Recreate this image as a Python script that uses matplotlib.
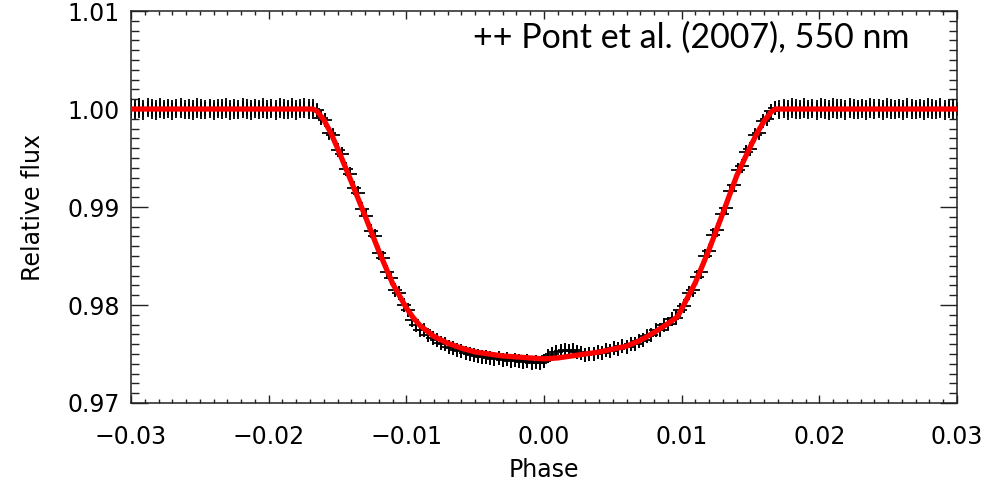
import numpy as np
import matplotlib
matplotlib.use("Agg")
import matplotlib.pyplot as plt
from matplotlib.ticker import MultipleLocator

# --- dados -----------------------------------------------------------------
# fase das medidas: amostragem regular de 0.0003 entre -0.03 e 0.03
phase = np.round(np.arange(-0.0300, 0.03001, 0.0003), 4)

flux_pre = [
    1.00012, 0.99995, 1.00008, 0.99990, 1.00015, 1.00003, 0.99992, 1.00010, 0.99997, 1.00006,
    0.99988, 1.00004, 1.00011, 0.99994, 1.00002, 0.99991, 1.00009, 1.00000, 0.99996, 1.00007,
    0.99993, 1.00005, 0.99998, 1.00012, 0.99989, 1.00003, 0.99995, 1.00008, 1.00001, 0.99992,
    1.00006, 0.99997, 1.00010, 0.99994, 1.00004, 0.99990, 1.00013, 1.00002, 0.99996, 1.00009,
    0.99993, 1.00005, 1.00011, 0.99998, 1.00003,
]
flux_ingress = [
    0.99985, 0.99905, 0.99890, 0.99760, 0.99730, 0.99580, 0.99540, 0.99390, 0.99340, 0.99190,
    0.99140, 0.98980, 0.98910, 0.98760, 0.98700, 0.98530, 0.98480, 0.98340, 0.98280, 0.98150,
    0.98120, 0.98000, 0.97950, 0.97850, 0.97800, 0.97750,
]
flux_bottom = [
    0.97740, 0.97690, 0.97660, 0.97640, 0.97610, 0.97600, 0.97570, 0.97560, 0.97540, 0.97530,
    0.97510, 0.97500, 0.97490, 0.97480, 0.97470, 0.97470, 0.97460, 0.97450, 0.97460, 0.97440,
    0.97450, 0.97430, 0.97440, 0.97430, 0.97420, 0.97430, 0.97410, 0.97420, 0.97410, 0.97430,
    0.97480, 0.97500, 0.97520, 0.97530, 0.97540, 0.97530, 0.97540, 0.97520, 0.97510, 0.97490,
    0.97500, 0.97500, 0.97520, 0.97510, 0.97540, 0.97530, 0.97560, 0.97550, 0.97580, 0.97570,
    0.97600, 0.97600, 0.97630, 0.97640, 0.97680, 0.97690, 0.97740, 0.97750, 0.97800, 0.97810,
    0.97860, 0.97870,
]
flux_egress = [
    0.97950, 0.97990, 0.98120, 0.98150, 0.98290, 0.98340, 0.98500, 0.98550, 0.98710, 0.98770,
    0.98930, 0.98990, 0.99160, 0.99220, 0.99380, 0.99420, 0.99560, 0.99590, 0.99730, 0.99760,
    0.99880, 0.99900, 0.99980, 1.00010,
]
flux_post = [
    0.99995, 1.00007, 0.99991, 1.00012, 1.00002, 0.99994, 1.00009, 0.99997, 1.00004, 0.99989,
    1.00011, 1.00001, 0.99993, 1.00008, 0.99998, 1.00005, 0.99990, 1.00013, 1.00003, 0.99996,
    1.00006, 0.99992, 1.00010, 0.99999, 1.00004, 0.99988, 1.00009, 1.00002, 0.99995, 1.00007,
    0.99991, 1.00012, 1.00000, 0.99997, 1.00005, 0.99993, 1.00010, 1.00003, 0.99996, 1.00008,
    0.99990, 1.00006, 1.00001, 0.99998,
]
err_out = 0.0010   # barras fora do trânsito
err_in = 0.0007    # barras dentro do trânsito

# modelo (linha vermelha)
model_phase = [-0.0300, -0.0168, -0.0165, -0.0160, -0.0155, -0.0150, -0.0140, -0.0130,
               -0.0120, -0.0110, -0.0100, -0.0095, -0.0090, -0.0080, -0.0070, -0.0060,
               -0.0050, -0.0040, -0.0030, -0.0020, -0.0010, 0.0000, 0.0010, 0.0020,
               0.0030, 0.0040, 0.0050, 0.0060, 0.0070, 0.0080, 0.0090, 0.0097,
               0.0100, 0.0110, 0.0120, 0.0130, 0.0140, 0.0150, 0.0155, 0.0160,
               0.0165, 0.0168, 0.0300]
model_flux = [1.0000, 1.0000, 0.9998, 0.9989, 0.9976, 0.9960, 0.9926, 0.9891,
              0.9855, 0.9822, 0.9797, 0.9787, 0.9779, 0.9768, 0.9761, 0.9756,
              0.9752, 0.9750, 0.9748, 0.9747, 0.9746, 0.9745, 0.9746, 0.9748,
              0.9750, 0.9752, 0.9755, 0.9758, 0.9764, 0.9772, 0.9781, 0.9788,
              0.9796, 0.9823, 0.9857, 0.9894, 0.9932, 0.9962, 0.9976, 0.9988,
              0.9997, 1.0000, 1.0000]

flux = np.array(flux_pre + flux_ingress + flux_bottom + flux_egress + flux_post)
flux_err = np.array([err_out] * len(flux_pre)
                    + [err_in] * (len(flux_ingress) + len(flux_bottom) + len(flux_egress))
                    + [err_out] * len(flux_post))

# --- figura ----------------------------------------------------------------
plt.rcParams['font.family'] = 'DejaVu Sans'

fig = plt.figure(figsize=(9.98, 4.92), dpi=100)
ax = fig.add_axes([0.1313, 0.1809, 0.8276, 0.7967])

ax.errorbar(phase, flux, yerr=flux_err, fmt='+', color='black', ecolor='black',
            markersize=10, markeredgewidth=1.3, elinewidth=1.3, capsize=0, zorder=2)
ax.plot(model_phase, model_flux, color='#ff0000', linewidth=3.8, zorder=3)

ax.set_xlim(-0.03, 0.03)
ax.set_ylim(0.97, 1.01)

ax.xaxis.set_major_locator(MultipleLocator(0.01))
ax.xaxis.set_minor_locator(MultipleLocator(0.001))
ax.yaxis.set_major_locator(MultipleLocator(0.01))
ax.yaxis.set_minor_locator(MultipleLocator(0.001))
ax.xaxis.set_major_formatter(plt.FuncFormatter(lambda v, p: f"{v:.2f}".replace('-', '\u2212') if abs(v) > 1e-9 else "0.00"))
ax.yaxis.set_major_formatter(plt.FuncFormatter(lambda v, p: f"{v:.2f}"))

ax.tick_params(axis='x', which='major', direction='in', length=5.6, width=1.0,
               top=True, bottom=True, labelsize=17, pad=16, colors='#222222')
ax.tick_params(axis='x', which='minor', direction='in', length=2.8, width=1.0,
               top=True, bottom=True, colors='#222222')
ax.tick_params(axis='y', which='major', direction='in', length=11.9, width=1.0,
               left=True, right=True, labelsize=17, pad=8, colors='#222222')
ax.tick_params(axis='y', which='minor', direction='in', length=6.0, width=1.0,
               left=True, right=True, colors='#222222')
for lab in ax.get_xticklabels() + ax.get_yticklabels():
    lab.set_color('black')

for sp in ax.spines.values():
    sp.set_linewidth(1.1)
    sp.set_color('#222222')

ax.set_xlabel('Phase', fontsize=17, labelpad=6)
ax.set_ylabel('Relative flux', fontsize=17, labelpad=16)

fig.text(0.474, 0.902, '++ Pont et al. (2007), 550 nm', fontsize=24.5,
         family=['Lato', 'DejaVu Sans'], va='baseline', ha='left', color='black')

fig.savefig('out.png', dpi=100)
